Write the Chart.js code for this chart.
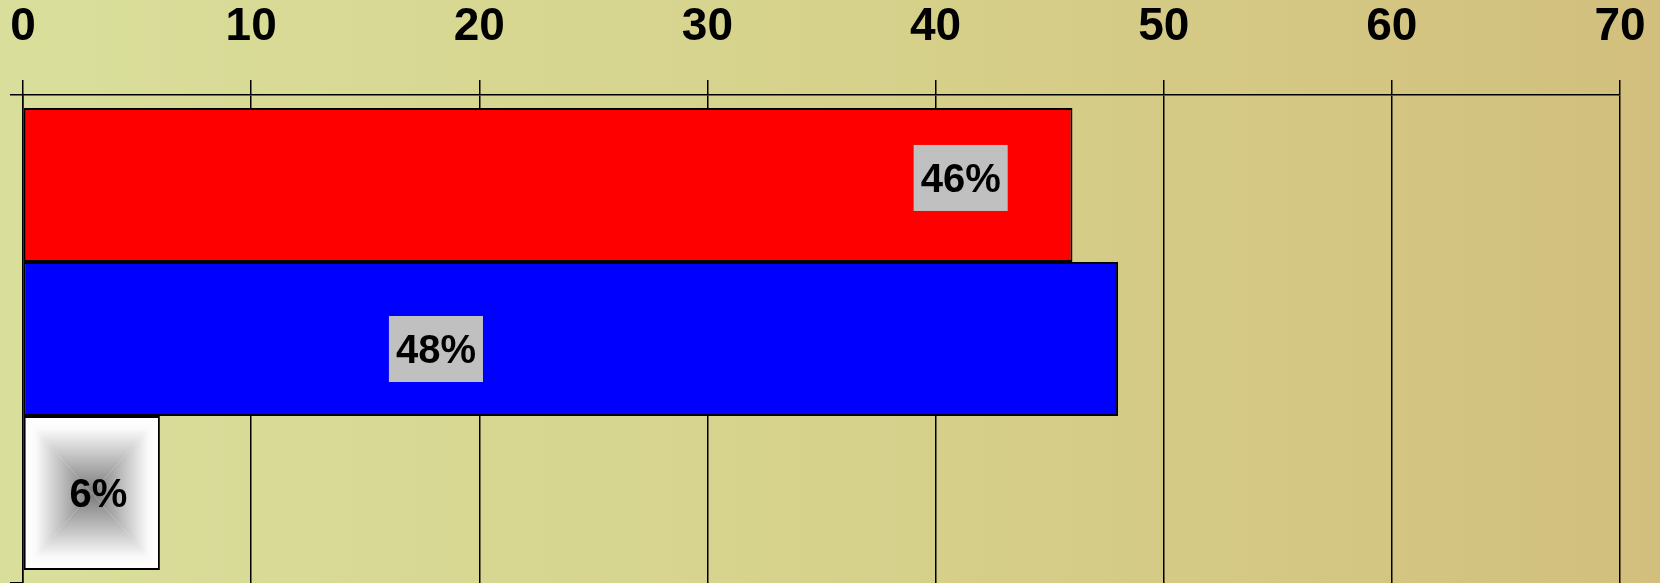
<!DOCTYPE html>
<html>
<head>
<meta charset="utf-8">
<script src="https://cdn.jsdelivr.net/npm/chart.js@4/dist/chart.umd.min.js"></script>
<style>
  html, body { margin: 0; padding: 0; background: #d6d38c; }
  #wrap { width: 1660px; height: 583px; }
</style>
</head>
<body>
<div id="wrap"><canvas id="myChart" width="1660" height="583"></canvas></div>

<script>
// data
const categories = [''];
const seriesNames = ['A', 'B', 'C'];
const seriesValues = [[46], [48], [6]];
const valueLabels = ['46%', '48%', '6%'];
const xTicks = [0, 10, 20, 30, 40, 50, 60, 70];

// styling / label placement (not data)
const barColors = ['#ff0000', '#0000ff', '#ffffff'];
const labelAt = [41.1, 18.1, 3.3];      // label centre, in axis units
const labelShiftY = [-7, 10, 0];        // px from bar centre
const labelBox = ['#c0c0c0', '#c0c0c0', null];

const FONT = '"Liberation Sans", Arial, sans-serif';

const bgPlugin = {
  id: 'bg',
  beforeDraw(chart) {
    const ctx = chart.ctx;
    const g = ctx.createLinearGradient(0, 0, chart.width, 0);
    g.addColorStop(0, '#d9df9b');
    g.addColorStop(0.5, '#d6d28c');
    g.addColorStop(1, '#d2bf7d');
    ctx.save();
    ctx.fillStyle = g;
    ctx.fillRect(0, 0, chart.width, chart.height);
    ctx.restore();
  }
};

// grey "pyramid" fill for the small bar
const pyramidPlugin = {
  id: 'pyramid',
  afterDatasetDraw(chart, args) {
    if (args.index !== 2) return;
    const el = args.meta.data[0];
    const p = el.getProps(['x', 'y', 'base', 'height'], true);
    const bw = el.options.borderWidth;
    const L = Math.min(p.base, p.x) + bw, R = Math.max(p.base, p.x) - bw;
    const T = p.y - p.height / 2 + bw, B = p.y + p.height / 2 - bw;
    const cx = (L + R) / 2, cy = (T + B) / 2;
    const ctx = chart.ctx;
    const tri = (a, b, g0, g1) => {
      const g = ctx.createLinearGradient(g0[0], g0[1], g1[0], g1[1]);
      g.addColorStop(0, '#ffffff');
      g.addColorStop(0.15, '#fafafa');
      g.addColorStop(1, '#787878');
      ctx.fillStyle = g;
      ctx.beginPath();
      ctx.moveTo(a[0], a[1]);
      ctx.lineTo(b[0], b[1]);
      ctx.lineTo(cx, cy);
      ctx.closePath();
      ctx.fill();
    };
    ctx.save();
    ctx.beginPath();
    ctx.rect(L, T, R - L, B - T);
    ctx.clip();
    tri([L, T], [R, T], [cx, T], [cx, cy]);
    tri([R, T], [R, B], [R, cy], [cx, cy]);
    tri([R, B], [L, B], [cx, B], [cx, cy]);
    tri([L, B], [L, T], [L, cy], [cx, cy]);
    ctx.restore();
  }
};

const labelPlugin = {
  id: 'valueLabels',
  afterDatasetsDraw(chart) {
    const ctx = chart.ctx;
    const xs = chart.scales.x;
    ctx.save();
    ctx.font = 'bold 40px ' + FONT;
    ctx.textAlign = 'center';
    ctx.textBaseline = 'alphabetic';
    chart.data.datasets.forEach((ds, i) => {
      const el = chart.getDatasetMeta(i).data[0];
      const cx = xs.getPixelForValue(labelAt[i]);
      const cy = el.y + labelShiftY[i];
      const txt = valueLabels[i];
      const w = ctx.measureText(txt).width;
      if (labelBox[i]) {
        ctx.fillStyle = labelBox[i];
        ctx.fillRect(cx - w / 2 - 7, cy - 33, w + 14, 66);
      }
      ctx.fillStyle = '#000';
      ctx.fillText(txt, cx, cy + 14);
    });
    ctx.restore();
  }
};

const data = {
  labels: categories,
  datasets: seriesNames.map((name, i) => ({
    label: name,
    data: seriesValues[i],
    backgroundColor: barColors[i],
    borderColor: '#000',
    borderWidth: 2,
    borderSkipped: false,
    barPercentage: 1,
    categoryPercentage: 0.947
  }))
};

const config = {
  type: 'bar',
  data: data,
  options: {
    indexAxis: 'y',
    responsive: false,
    animation: false,
    layout: { padding: { left: 10, right: 40, top: 0, bottom: 0 } },
    plugins: {
      legend: { display: false },
      title: { display: false },
      tooltip: { enabled: false }
    },
    scales: {
      x: {
        position: 'top',
        min: 0,
        max: 70,
        afterBuildTicks: (axis) => { axis.ticks = xTicks.map(v => ({ value: v })); },
        afterFit: (axis) => { axis.height = 95; axis.paddingLeft = 0; axis.paddingRight = 0; },
        ticks: {
          color: '#000',
          padding: 26,
          maxRotation: 0,
          font: { family: FONT, size: 46, weight: 'bold', lineHeight: 1.15 }
        },
        grid: { color: '#000', lineWidth: 1.5, tickLength: 15 },
        border: { color: '#000', width: 1.5 }
      },
      y: {
        afterFit: (axis) => { axis.width = 13; axis.paddingTop = 0; axis.paddingBottom = 0; },
        ticks: { display: false },
        grid: { color: '#000', lineWidth: 1.5, tickLength: 13, drawOnChartArea: false, offset: true },
        border: { color: '#000', width: 1.5 }
      }
    }
  },
  plugins: [bgPlugin, pyramidPlugin, labelPlugin]
};

var myChart = new Chart(document.getElementById('myChart'), config);
</script>
</body>
</html>
